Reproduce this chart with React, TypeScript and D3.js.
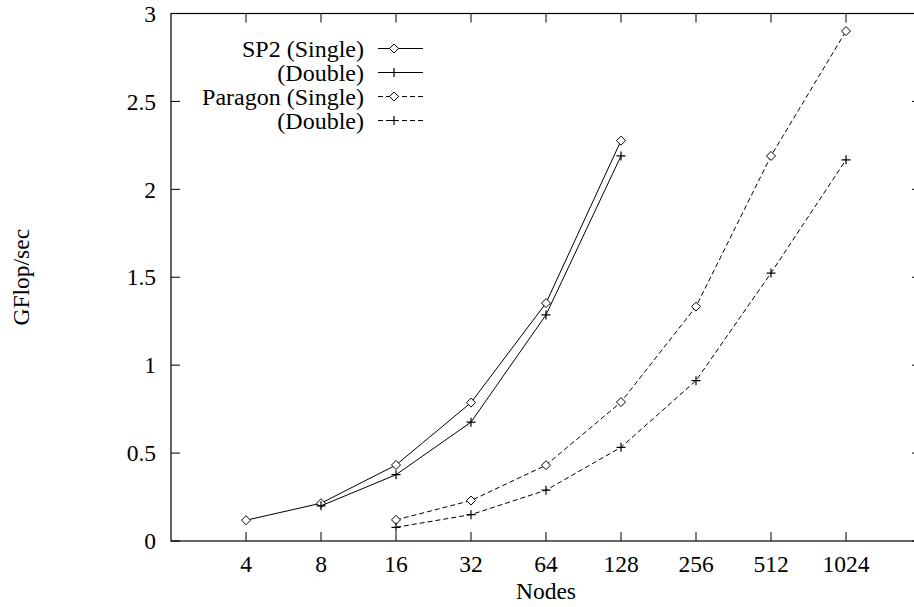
import React, { useEffect, useRef } from "react";
import * as d3 from "d3";

// node counts on the x axis (log2)
const nodeTicks = [4, 8, 16, 32, 64, 128, 256, 512, 1024];
const yTicks = [0, 0.5, 1, 1.5, 2, 2.5, 3];

const sp2Nodes = [4, 8, 16, 32, 64, 128];
const sp2Single = [0.118, 0.215, 0.432, 0.787, 1.353, 2.277];
const sp2DoubleNodes = [8, 16, 32, 64, 128];
const sp2Double = [0.2, 0.377, 0.676, 1.286, 2.19];

const paragonNodes = [16, 32, 64, 128, 256, 512, 1024];
const paragonSingle = [0.12, 0.23, 0.431, 0.79, 1.333, 2.19, 2.9];
const paragonDouble = [0.078, 0.15, 0.289, 0.533, 0.912, 1.524, 2.168];

const seriesNames = ["SP2 (Single)", "(Double)", "Paragon (Single)", "(Double)"];

const FONT = "'Liberation Serif', 'Times New Roman', serif";
const FS = 23.5;

export default function App() {
  const ref = useRef<SVGSVGElement>(null);

  useEffect(() => {
    const svg = d3.select(ref.current);
    svg.selectAll("*").remove();

    // plot box, right edge runs just past the window
    const left = 171, right = 921, top = 13.5, bottom = 541;
    const x = d3.scaleLog().base(2).domain([2, 2048]).range([left, right]);
    const y = d3.scaleLinear().domain([0, 3]).range([bottom, top]);

    const g = svg.append("g");

    // frame
    g.append("rect")
      .attr("x", left).attr("y", top)
      .attr("width", right - left).attr("height", bottom - top)
      .attr("fill", "none").attr("stroke", "black").attr("stroke-width", 1.2);

    const tl = 9;
    // x ticks bottom + top mirror
    nodeTicks.forEach(n => {
      g.append("line").attr("x1", x(n)).attr("x2", x(n)).attr("y1", bottom).attr("y2", bottom - tl)
        .attr("stroke", "black");
      g.append("line").attr("x1", x(n)).attr("x2", x(n)).attr("y1", top).attr("y2", top + tl)
        .attr("stroke", "black");
      g.append("text").attr("x", x(n)).attr("y", 572)
        .attr("text-anchor", "middle").attr("font-family", FONT).attr("font-size", FS)
        .text(n);
    });

    // y ticks left + right mirror
    yTicks.forEach(v => {
      g.append("line").attr("x1", left).attr("x2", left + tl).attr("y1", y(v)).attr("y2", y(v))
        .attr("stroke", "black");
      g.append("line").attr("x1", right).attr("x2", right - tl).attr("y1", y(v)).attr("y2", y(v))
        .attr("stroke", "black");
      g.append("text").attr("x", 156).attr("y", y(v)).attr("dy", "0.35em")
        .attr("text-anchor", "end").attr("font-family", FONT).attr("font-size", FS)
        .text(v);
    });

    // axis titles
    g.append("text").attr("x", (left + right) / 2).attr("y", 599)
      .attr("text-anchor", "middle").attr("font-family", FONT).attr("font-size", FS)
      .text("Nodes");
    g.append("text")
      .attr("transform", `translate(29, ${(top + bottom) / 2}) rotate(-90)`)
      .attr("text-anchor", "middle").attr("font-family", FONT).attr("font-size", FS)
      .text("GFlop/sec");

    const series = [
      { xs: sp2Nodes, ys: sp2Single, dash: null, mark: "diamond" },
      { xs: sp2DoubleNodes, ys: sp2Double, dash: null, mark: "plus" },
      { xs: paragonNodes, ys: paragonSingle, dash: "5,3", mark: "diamond" },
      { xs: paragonNodes, ys: paragonDouble, dash: "5,3", mark: "plus" },
    ];

    const line = d3.line<[number, number]>().x(d => d[0]).y(d => d[1]);

    const drawMark = (px: number, py: number, mark: string) => {
      if (mark === "diamond") {
        const r = 4.5;
        g.append("path")
          .attr("d", `M${px},${py - r}L${px + r},${py}L${px},${py + r}L${px - r},${py}Z`)
          .attr("fill", "white").attr("stroke", "black").attr("stroke-width", 1);
      } else {
        const r = 4.5;
        g.append("path")
          .attr("d", `M${px - r},${py}H${px + r}M${px},${py - r}V${py + r}`)
          .attr("fill", "none").attr("stroke", "black").attr("stroke-width", 1.2);
      }
    };

    series.forEach(s => {
      const pts: [number, number][] = s.xs.map((n, i) => [x(n), y(s.ys[i])]);
      g.append("path").attr("d", line(pts))
        .attr("fill", "none").attr("stroke", "black").attr("stroke-width", 1)
        .attr("stroke-dasharray", s.dash);
      pts.forEach(p => drawMark(p[0], p[1], s.mark));
    });

    // legend
    series.forEach((s, i) => {
      const ly = 48.5 + i * 24;
      g.append("text").attr("x", 364).attr("y", ly).attr("dy", "0.35em")
        .attr("text-anchor", "end").attr("font-family", FONT).attr("font-size", 24)
        .text(seriesNames[i]);
      g.append("line").attr("x1", 378).attr("x2", 423).attr("y1", ly).attr("y2", ly)
        .attr("stroke", "black").attr("stroke-width", 1)
        .attr("stroke-dasharray", s.dash);
      drawMark(394, ly, s.mark);
    });
  }, []);

  return (
    <svg ref={ref} width={914} height={607}
      style={{ position: "absolute", left: 0, top: 0, background: "white" }} />
  );
}
